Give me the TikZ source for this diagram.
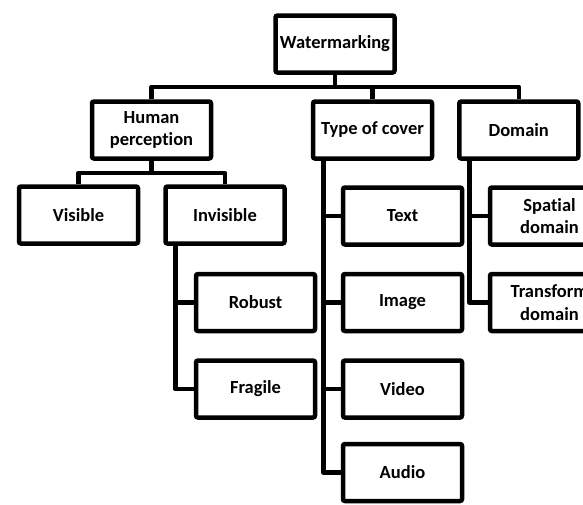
\documentclass[tikz,border=0pt]{standalone}
\usepackage{fontspec}
\setmainfont{Carlito}[Ligatures={NoCommon}]
\begin{document}
\begin{tikzpicture}[x=1pt,y=-1pt,
  box/.style={draw=black, line width=4.5pt, rounded corners=2pt, fill=white,
    minimum width=119pt, minimum height=57pt, inner sep=2pt, align=center,
    font=\bfseries\fontsize{18.5}{22.5}\selectfont},
  conn/.style={draw=black, line width=4.5pt, line join=round, line cap=butt}]
\useasboundingbox (0,0) rectangle (583,504);
\clip (0,0) rectangle (583,504);
\fill[white] (0,0) rectangle (583,504);
% nodes
\node[box] (wm)  at (335,44)    {Watermarking};
\node[box] (hp)  at (151.5,130) {Human\\perception};
\node[box] (tc)  at (372.5,130) {Type of cover};
\node[box] (dom) at (518.75,130) {Domain};
\node[box] (vis) at (78.5,215)  {Visible};
\node[box] (inv) at (225,215)   {Invisible};
\node[box] (rob) at (255.5,302.5) {Robust};
\node[box] (fra) at (255.5,389) {Fragile};
\node[box] (txt) at (402.5,216) {Text};
\node[box] (img) at (402.5,302.5) {Image};
\node[box] (vid) at (402.5,389) {Video};
\node[box] (aud) at (402.5,472.5) {Audio};
\node[box] (spa) at (549.5,216) {Spatial\\domain};
\node[box] (tra) at (549.5,302.5) {Transform\\domain};
% coordinates
\coordinate (bar) at (0,87);
\coordinate (hb) at (0,173);
\coordinate (iv) at ([xshift=12pt]inv.south west);
\coordinate (cv) at ([xshift=12.5pt]tc.south west);
\coordinate (dv) at ([xshift=12.5pt]dom.south west);
% connectors
\draw[conn] (hp.north) -- (hp.north |- bar) -- (dom.north |- bar) -- (dom.north);
\draw[conn] (wm.south) -- (wm.south |- bar);
\draw[conn] (tc.north) -- (tc.north |- bar);
\draw[conn] (hp.south) -- (hp.south |- hb);
\draw[conn] (vis.north) -- (vis.north |- hb) -- (inv.north |- hb) -- (inv.north);
\draw[conn] (iv) |- (fra.west);
\draw[conn] (rob.west) -- (rob.west -| iv);
\draw[conn] (cv) |- (aud.west);
\draw[conn] (txt.west) -- (txt.west -| cv);
\draw[conn] (img.west) -- (img.west -| cv);
\draw[conn] (vid.west) -- (vid.west -| cv);
\draw[conn] (dv) |- (tra.west);
\draw[conn] (spa.west) -- (spa.west -| dv);
\end{tikzpicture}
\end{document}
